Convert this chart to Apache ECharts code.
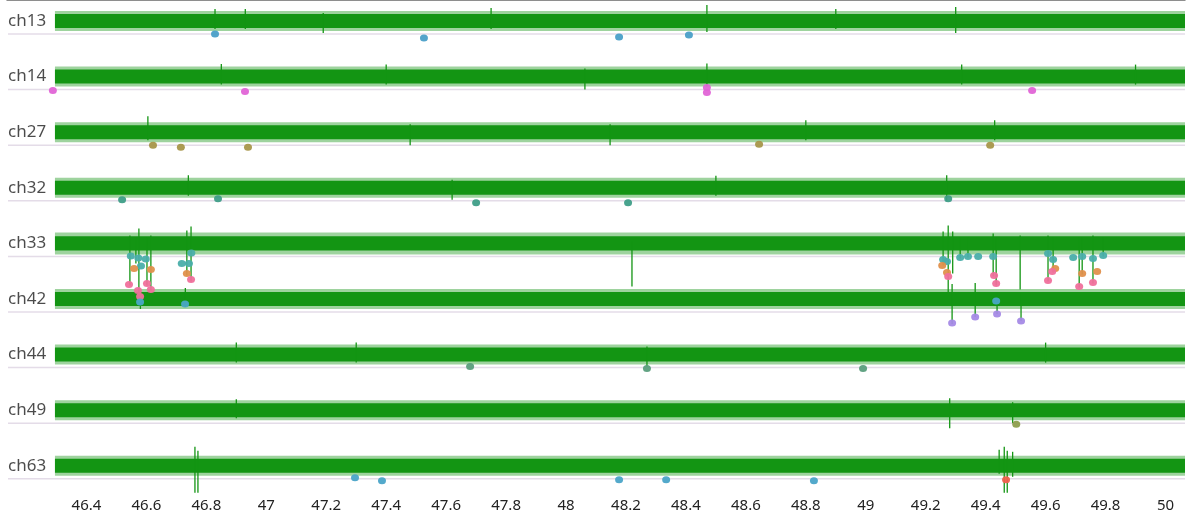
<!DOCTYPE html>
<html><head><meta charset="utf-8">
<script src="https://cdn.jsdelivr.net/npm/echarts@6/dist/echarts.min.js"></script>
<style>html,body{margin:0;padding:0;background:#fff}#c{width:1192px;height:521px}</style>
</head><body><div id="c"></div>
<script>
// ---------- data (amplitudes in 0.1 px-equivalent units, positive = up) ----------
const channels = ['ch13','ch14','ch27','ch32','ch33','ch42','ch44','ch49','ch63'];
const timeMin = 46.135, timeMax = 50.065;      // visible time window (s)
const traceStart = 46.295;                       // first sample drawn
const tickLabels = [46.4,46.6,46.8,47,47.2,47.4,47.6,47.8,48,48.2,48.4,48.6,48.8,49,49.2,49.4,49.6,49.8,50];
const tickMarks  = [46.2,46.4,46.6,46.8,47,47.2,47.4,47.6,47.8,48,48.2,48.4,48.6,48.8,49,49.2,49.4,49.6,49.8,50];
const coreHalf = [70,70,70,70,72,70,70,70,70];   // dense noise band half height
const peakHalf = [100,100,100,100,110,100,100,100,100];   // noise envelope half height
const markerLevel = 130;                          // threshold line below each trace

// notable excursions per channel: [time, top, bottom]
const spikesCh13 = [[46.829,120,-80],[46.93,120,-80],[47.19,80,-120],[47.75,130,-80],[48.47,160,-110],[48.9,120,-80],[49.30,140,-120]];
const spikesCh14 = [[46.85,125,-80],[47.4,120,-80],[48.063,80,-130],[48.47,130,-100],[49.32,120,-80],[49.9,120,-80]];
const spikesCh27 = [[46.605,160,-80],[47.48,80,-130],[48.147,80,-130],[48.8,120,-80],[49.43,120,-80]];
const spikesCh32 = [[46.74,125,-80],[47.62,80,-120],[48.5,120,-80],[49.27,125,-130]];
const spikesCh33 = [[46.545,80,-420],[46.565,60,-200],[46.575,150,-560],[46.602,60,-420],[46.615,80,-470],
                    [46.735,130,-320],[46.749,170,-380],[48.22,20,-430],[49.258,120,-220],[49.275,180,-500],
                    [49.29,120,-300],[49.315,60,-150],[49.341,60,-140],[49.425,100,-330],[49.435,60,-420],
                    [49.515,80,-460],[49.608,80,-380],[49.625,60,-290],[49.712,60,-440],[49.722,60,-310],
                    [49.758,80,-400],[49.792,60,-130]];
const spikesCh42 = [[46.58,60,-100],[46.73,110,-80],[49.288,150,-250],[49.365,160,-180],[49.438,60,-150],[49.518,60,-220]];
const spikesCh44 = [[46.9,120,-80],[47.3,120,-80],[48.27,80,-120],[49.6,120,-80]];
const spikesCh49 = [[46.9,110,-80],[49.28,120,-180],[49.49,80,-130]];
const spikesCh63 = [[46.762,190,-270],[46.772,150,-270],[49.445,160,-80],[49.462,190,-270],[49.472,150,-270],[49.49,140,-110]];
const spikeLists = [spikesCh13,spikesCh14,spikesCh27,spikesCh32,spikesCh33,spikesCh42,spikesCh44,spikesCh49,spikesCh63];

// detected events: [time, amplitude]
const evCh13 = [[46.829,-130],[47.526,-170],[48.177,-160],[48.410,-140]];
const evCh14 = [[46.288,-140],[46.929,-150],[48.470,-110],[48.470,-160],[49.555,-140]];
const evCh27 = [[46.622,-130],[46.715,-150],[46.939,-150],[48.644,-120],[49.415,-130]];
const evCh32 = [[46.519,-120],[46.839,-110],[47.700,-150],[48.207,-150],[49.275,-110]];
const evCh33a = [[46.548,-125],[46.573,-145],[46.598,-155],[46.582,-225],[46.718,-200],[46.742,-200],[46.750,-95],
                 [49.258,-160],[49.271,-180],[49.315,-140],[49.341,-130],[49.375,-130],[49.425,-130],
                 [49.608,-100],[49.625,-160],[49.692,-140],[49.722,-130],[49.758,-150],[49.792,-120]];
const evCh33b = [[46.559,-250],[46.615,-260],[46.735,-300],[49.255,-220],[49.271,-290],[49.632,-250],[49.722,-300],[49.772,-280]];
const evCh33c = [[46.542,-410],[46.572,-470],[46.579,-530],[46.602,-400],[46.615,-460],[46.749,-360],
                 [49.275,-330],[49.428,-320],[49.435,-400],[49.608,-370],[49.622,-280],[49.712,-430],[49.758,-390]];
const evCh42a = [[46.579,-30],[46.729,-50],[49.435,-20]];
const evCh42b = [[49.288,-240],[49.365,-180],[49.438,-150],[49.518,-220]];
const evCh44 = [[47.680,-120],[48.270,-140],[48.991,-140]];
const evCh49 = [[49.502,-140]];
const evCh63a = [[47.296,-120],[47.386,-150],[48.177,-140],[48.334,-140],[48.827,-150]];
const evCh63b = [[49.468,-140]];

// ---------- layout ----------
const ROW0 = 210, ROW_GAP = 556;
const rowY = (i, a) => ROW0 + i * ROW_GAP - a;
const GREEN = '#139513';

const eventGroups = [
  {ch:0, data:evCh13, color:'#4a9fc8'},
  {ch:1, data:evCh14, color:'#e064d6'},
  {ch:2, data:evCh27, color:'#a8964a'},
  {ch:3, data:evCh32, color:'#3f9e88'},
  {ch:4, data:evCh33a, color:'#4aaeaa'},
  {ch:4, data:evCh33b, color:'#e0904c'},
  {ch:4, data:evCh33c, color:'#f0709c'},
  {ch:5, data:evCh42a, color:'#4aa6c6'},
  {ch:5, data:evCh42b, color:'#a58ae6'},
  {ch:6, data:evCh44, color:'#5a9e7c'},
  {ch:7, data:evCh49, color:'#8e9e4e'},
  {ch:8, data:evCh63a, color:'#4aa4c8'},
  {ch:8, data:evCh63b, color:'#f0604c'}
];

const chart = echarts.init(document.getElementById('c'), null, {renderer:'canvas'});

const series = [];
// baselines + traces
series.push({
  type:'custom', silent:true, clip:true,
  data: channels.map((c,i)=>[i]),
  renderItem: function(params, api){
    const i = api.value(0);
    const children = [];
    const bl0 = api.coord([timeMin, rowY(i,-markerLevel)]);
    const bl1 = api.coord([timeMax, rowY(i,-markerLevel)]);
    children.push({type:'line', shape:{x1:bl0[0]+1,y1:bl0[1],x2:bl1[0],y2:bl1[1]},
      style:{stroke:'#e4dce8', lineWidth:1.5}});
    const o0 = api.coord([traceStart, rowY(i,peakHalf[i])]);
    const o1 = api.coord([timeMax, rowY(i,-peakHalf[i])]);
    children.push({type:'rect', shape:{x:o0[0],y:o0[1],width:o1[0]-o0[0],height:o1[1]-o0[1]},
      style:{fill:'rgba(24,150,24,0.42)'}});
    const c0 = api.coord([traceStart, rowY(i,coreHalf[i])]);
    const c1 = api.coord([timeMax, rowY(i,-coreHalf[i])]);
    children.push({type:'rect', shape:{x:c0[0],y:c0[1],width:c1[0]-c0[0],height:c1[1]-c0[1]},
      style:{fill:GREEN}});
    spikeLists[i].forEach(s=>{
      const p0 = api.coord([s[0], rowY(i,s[1])]);
      const p1 = api.coord([s[0], rowY(i,s[2])]);
      children.push({type:'line', shape:{x1:p0[0],y1:p0[1],x2:p1[0],y2:p1[1]},
        style:{stroke:GREEN, lineWidth:1.3}});
    });
    return {type:'group', children};
  },
  z:2
});
// channel labels
series.push({
  type:'scatter', silent:true, symbolSize:0,
  data: channels.map((c,i)=>({value:[timeMin, rowY(i,0)], name:c})),
  label:{show:true, position:'right', distance:1, formatter:p=>p.name,
    fontFamily:'Noto Sans', fontSize:17, color:'#1e1e1e'},
  z:3
});
// events
eventGroups.forEach(g=>{
  series.push({
    type:'scatter', silent:true, symbol:'circle', symbolSize:[8,7],
    itemStyle:{color:g.color, opacity:0.95},
    data: g.data.map(d=>[d[0], rowY(g.ch, d[1])]),
    z:4
  });
});

chart.setOption({
  animation:false,
  grid:{left:7, right:7, top:0, bottom:28},
  xAxis:{type:'value', min:timeMin, max:timeMax,
    axisLine:{show:true, lineStyle:{color:'#6a6a6a', width:1.5}},
    axisTick:{show:true, inside:true, length:3, customValues:tickMarks, lineStyle:{color:'#6a6a6a'}},
    axisLabel:{customValues:tickLabels, formatter:v=>String(v), fontFamily:'Noto Sans', fontSize:15, color:'#222', margin:5},
    splitLine:{show:false}},
  yAxis:{type:'value', min:0, max:4930, inverse:true, show:false, splitLine:{show:false}},
  series
});
</script></body></html>
